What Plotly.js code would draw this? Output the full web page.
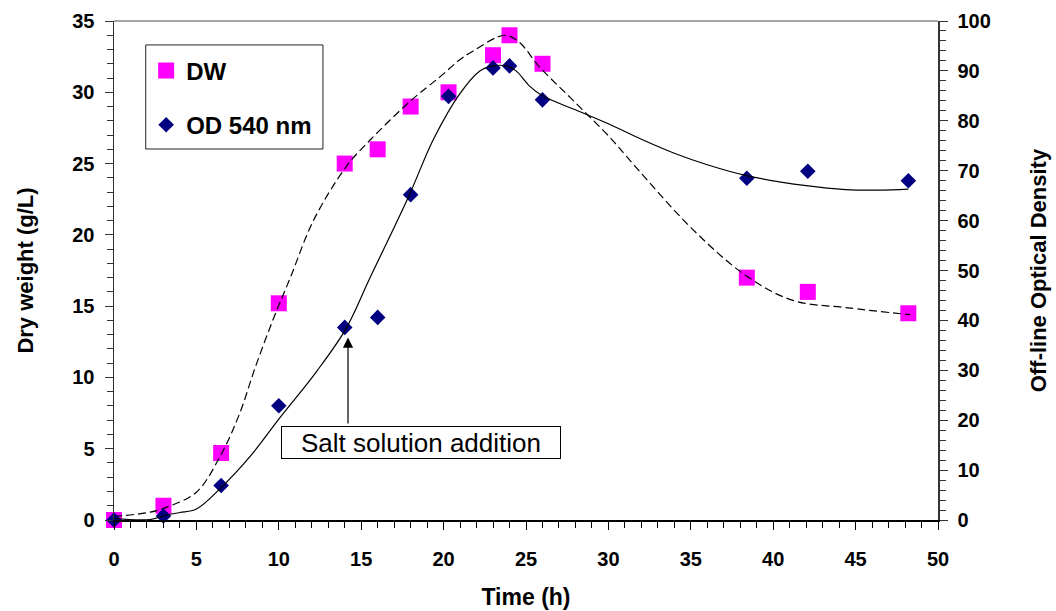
<!DOCTYPE html>
<html>
<head>
<meta charset="utf-8">
<script src="https://cdn.plot.ly/plotly-3.0.1.min.js"></script>
<style>html,body{margin:0;padding:0;background:#fff;}#chart{width:1056px;height:611px;}</style>
</head>
<body>
<div id="chart"></div>
<script>
// Measured data
const dwTime = [0, 3, 6.5, 10, 14, 16, 18, 20.3, 23, 24, 26, 38.4, 42.1, 48.2];
const dwValue = [0, 1.0, 4.7, 15.2, 25.0, 26.0, 29.0, 30.0, 32.6, 34.0, 32.0, 17.0, 16.0, 14.5];
const odTime = [0, 3, 6.5, 10, 14, 16, 18, 20.3, 23, 24, 26, 38.4, 42.1, 48.2];
const odValue = [0, 0.8, 6.9, 22.9, 38.6, 40.6, 65.2, 84.9, 90.6, 91.0, 84.2, 68.5, 69.9, 68.0];

// Fitted curves
const dwFitTime = [0, 2.2, 3.2, 5, 6.5, 7.6, 8.6, 9.7, 10.7, 12.1, 14.1, 15.5, 18, 19.8, 21, 21.8, 23.7, 24.6, 25.8, 27.8, 30.2, 31.1, 35.1, 38.4, 41.2, 44.4, 48.3];
const dwFitValue = [0.25, 0.55, 0.9, 1.95, 4.6, 7.4, 10.8, 14.2, 17.0, 21.0, 24.8, 26.6, 29.4, 31.1, 32.3, 32.9, 34.0, 33.5, 31.8, 29.5, 26.7, 25.5, 20.4, 17.1, 15.4, 14.9, 14.4];
const odFitTime = [0, 2.2, 3.2, 4, 5, 6.5, 8.3, 10, 12.3, 14.07, 15.5, 17.9, 19.4, 21, 22.2, 23, 23.8, 24.4, 25.2, 26, 28, 30, 32, 34, 36, 38.4, 42, 44.4, 46.4, 48.2];
const odFitValue = [0.3, 0.1, 1.0, 1.5, 2.2, 6.5, 12.9, 20.2, 29.8, 38.3, 48.3, 65.0, 76.4, 85.5, 90.0, 91.0, 91.0, 90.0, 87.0, 85.0, 82.2, 79.4, 76.3, 73.5, 71.2, 69.0, 67.0, 66.2, 66.1, 66.3];

const seriesNames = ['DW', 'OD 540 nm'];
const xTitle = 'Time (h)';
const yTitle = 'Dry weight (g/L)';
const y2Title = 'Off-line Optical Density';
const noteText = 'Salt solution addition';
const notePoint = [14.2, 12.8];

const FONT = 'Liberation Sans, Arial, sans-serif';

const traces = [
  {x: dwTime, y: dwValue, name: seriesNames[0], type: 'scatter', mode: 'markers', yaxis: 'y',
   marker: {symbol: 'square', size: 16, color: '#FF00FF'}, legendgroup: 'a', cliponaxis: false},
  {x: odTime, y: odValue, name: seriesNames[1], type: 'scatter', mode: 'markers', yaxis: 'y2',
   marker: {symbol: 'diamond', size: 12, color: '#000080'}, legendgroup: 'b', cliponaxis: false},
  {x: dwFitTime, y: dwFitValue, type: 'scatter', mode: 'lines', yaxis: 'y', showlegend: false,
   line: {color: '#000', width: 1.2, dash: '8px,4px', shape: 'spline', smoothing: 1}},
  {x: odFitTime, y: odFitValue, type: 'scatter', mode: 'lines', yaxis: 'y2', showlegend: false,
   line: {color: '#000', width: 1.2, shape: 'spline', smoothing: 1}}
];

const tickFont = {family: FONT, size: 20, color: '#000', weight: 'bold'};
const titleFont = {family: FONT, size: 22, color: '#000', weight: 'bold'};

const layout = {
  width: 1056, height: 611,
  margin: {l: 114, r: 118, t: 21, b: 91},
  paper_bgcolor: '#fff', plot_bgcolor: '#fff',
  font: {family: FONT},
  showlegend: true,
  legend: {x: 0.039, y: 0.945, xanchor: 'left', yanchor: 'top', bgcolor: 'rgba(0,0,0,0)',
           borderwidth: 0, font: {family: FONT, size: 24, color: '#000', weight: 'bold'},
           tracegroupgap: 20, traceorder: 'grouped', itemwidth: 30},
  xaxis: {range: [0, 50], dtick: 5, tick0: 0, showgrid: false, zeroline: false,
          showline: true, linecolor: '#000', linewidth: 1.5,
          ticks: 'outside', ticklen: 8, tickwidth: 1, tickcolor: '#000',
          minor: {dtick: 1, ticks: 'outside', ticklen: 6, tickcolor: '#000', showgrid: false},
          tickfont: tickFont, ticklabelstandoff: 12,
          title: {text: xTitle, font: {family: FONT, size: 23, color: '#000', weight: 'bold'}, standoff: 20}},
  xaxis2: {range: [0, 50], dtick: 5, tick0: 0, overlaying: 'x', anchor: 'y', side: 'bottom',
           showgrid: false, zeroline: false, showline: false, showticklabels: false,
           ticks: 'inside', ticklen: 6, tickwidth: 1, tickcolor: '#000'},
  yaxis: {range: [0, 35], dtick: 5, tick0: 0, showgrid: false, zeroline: false,
          showline: true, linecolor: '#333', linewidth: 1.5,
          ticks: 'outside', ticklen: 8, tickwidth: 1, tickcolor: '#333',
          minor: {dtick: 1, ticks: 'outside', ticklen: 6, tickcolor: '#333', showgrid: false},
          tickfont: tickFont, ticklabelstandoff: 6,
          title: {text: yTitle, font: titleFont, standoff: 32}},
  yaxis2: {range: [0, 100], dtick: 10, tick0: 0, overlaying: 'y', side: 'right', anchor: 'x',
           showgrid: false, zeroline: false,
           showline: true, linecolor: '#333', linewidth: 1.5,
           ticks: 'outside', ticklen: 8, tickwidth: 1, tickcolor: '#333',
           minor: {dtick: 2, ticks: 'outside', ticklen: 6, tickcolor: '#333', showgrid: false},
           tickfont: tickFont, ticklabelstandoff: 6,
           title: {text: y2Title, font: titleFont, standoff: 40}},
  shapes: [
    {type: 'line', xref: 'paper', yref: 'paper', x0: 0, x1: 1, y0: 1, y1: 1,
     line: {color: '#888', width: 1.5}},
    {type: 'rect', xref: 'paper', yref: 'paper', x0: 0.0385, x1: 0.2536, y0: 0.7435, y1: 0.952,
     line: {color: '#222', width: 1}, fillcolor: 'rgba(0,0,0,0)'}
  ],
  annotations: [
    {x: notePoint[0], y: notePoint[1], xref: 'x', yref: 'y', text: ' ', showarrow: true,
     ax: 0, ay: 88, axref: 'pixel', ayref: 'pixel', arrowhead: 2, arrowsize: 1.7, arrowwidth: 1.2,
     arrowcolor: '#000', standoff: 0, startstandoff: 0, font: {size: 1}},
    {x: 18.6, y: 5.47, xref: 'x', yref: 'y', text: noteText, showarrow: false,
     font: {family: FONT, size: 26, color: '#000'}, bgcolor: '#fff', bordercolor: '#000',
     borderwidth: 1, borderpad: 2, width: 274, height: 27}
  ]
};

Plotly.newPlot('chart', traces, layout, {displayModeBar: false, staticPlot: true});
</script>
</body>
</html>
